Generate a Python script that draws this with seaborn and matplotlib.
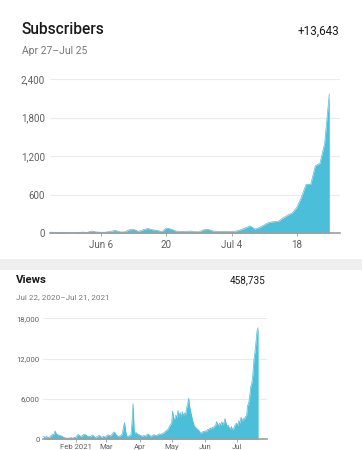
import pandas as pd
import matplotlib
matplotlib.use("Agg")
import matplotlib.pyplot as plt
from matplotlib.patches import Rectangle
import seaborn as sns

FILL = "#4bbfd9"
GRID = "#ebebeb"
TICK = "#616161"
SPINE = "#9e9e9e"

# --- Subscribers, daily from May 26 ---
sub_start = "2021-05-26"
sub_values = [
    18, 15, 14, 16, 10, 8, 12, 18, 14, 35, 20, 15, 18, 30, 45, 22, 20, 55, 60, 30,
    55, 75, 55, 45, 25, 82, 65, 35, 30, 28, 35, 25, 22, 55, 60, 35, 30, 25, 30, 25,
    35, 55, 85, 115, 65, 90, 130, 170, 180, 185, 235, 280, 315, 400, 560, 760, 760,
    1050, 1090, 1400, 2170,
]
sub_ticks = ["2021-06-06", "2021-06-20", "2021-07-04", "2021-07-18"]
sub_tick_labels = ["Jun 6", "20", "Jul 4", "18"]
sub_yticks = [0, 600, 1200, 1800, 2400]

# --- Views, daily from Jan 1 ---
views_start = "2021-01-01"
views_values = [
    # Jan
    450, 380, 300, 420, 350, 280, 330, 500, 620, 800, 700, 1250, 900, 700,
    650, 600, 550, 500, 420, 300, 250, 180, 150, 200, 160, 220, 250, 180, 150, 300, 250,
    # Feb
    400, 650, 700, 550, 450, 500, 600, 750, 700, 650, 500, 400, 450, 350,
    500, 650, 550, 300, 250, 400, 350, 600, 500, 350, 300, 450, 400, 250,
    # Mar
    500, 600, 650, 550, 500, 700, 900, 1100, 1000, 700, 550, 450, 400, 550,
    600, 900, 1800, 2500, 1200, 500, 450, 500, 600, 700, 2500, 5300, 1200, 900,
    1000, 800, 650,
    # Apr
    700, 550, 500, 450, 600, 500, 450, 700, 800, 650, 500, 450, 550, 700,
    650, 550, 600, 650, 750, 800, 700, 850, 900, 1000, 1150, 1300, 1400, 1600,
    1900, 2200,
    # May
    2400, 4200, 3000, 3100, 3600, 3200, 4300, 3400, 4000, 3300, 4100, 3500, 3900, 3600,
    4600, 5200, 6100, 4800, 4000, 3300, 2600, 2100, 1800, 1700, 1500, 1400, 1200, 900,
    1000, 1100, 1200,
    # Jun
    1100, 1300, 1200, 1500, 1400, 1700, 1500, 1800, 1600, 2000, 1900, 2650, 2300, 2000,
    2400, 2100, 2600, 2200, 2500, 3100, 2400, 1900, 2100, 1700, 1500, 1900, 1400, 1600,
    2000, 2300,
    # Jul
    2400, 2000, 2800, 2300, 3300, 2600, 3100, 2900, 3400, 3200, 5000, 5300, 6300, 7800,
    8300, 9500, 11800, 13000, 14500, 16200, 16600,
]
views_ticks = ["2021-02-01", "2021-03-01", "2021-04-01", "2021-05-01", "2021-06-01", "2021-07-01"]
views_tick_labels = ["Feb 2021", "Mar", "Apr", "May", "Jun", "Jul"]
views_yticks = [0, 6000, 12000, 18000]

sns.set_theme(style="white")
plt.rcParams["font.family"] = ["Roboto", "DejaVu Sans"]

W, H = 362, 450
fig = plt.figure(figsize=(W / 100, H / 100), dpi=100)


def box(x0, y0, x1, y1):
    # pixel box (top-left origin) -> figure fractions
    return [x0 / W, 1 - y1 / H, (x1 - x0) / W, (y1 - y0) / H]


def draw_area(ax, start, values, extra_days, yticks, ticks, tick_labels, fs, pad):
    dates = pd.date_range(start, periods=len(values), freq="D")
    df = pd.DataFrame({"date": dates, "value": values})
    sns.lineplot(data=df, x="date", y="value", ax=ax, color=FILL, linewidth=0.5)
    ax.fill_between(df["date"], 0, df["value"], color=FILL, linewidth=0)
    ax.set_xlim(dates[0], dates[-1] + pd.Timedelta(days=extra_days))
    ax.set_ylim(yticks[0], yticks[-1])
    ax.set_yticks(yticks)
    ax.set_yticklabels([f"{v:,}" for v in yticks])
    ax.set_xticks(pd.to_datetime(ticks))
    ax.set_xticklabels(tick_labels)
    ax.set_xlabel("")
    ax.set_ylabel("")
    ax.grid(axis="y", color=GRID, linewidth=0.8)
    ax.set_axisbelow(True)
    for s in ["top", "right", "left"]:
        ax.spines[s].set_visible(False)
    ax.spines["bottom"].set_color(SPINE)
    ax.spines["bottom"].set_linewidth(1.2)
    ax.spines["bottom"].set_zorder(5)
    ax.tick_params(axis="y", length=0, pad=pad, labelsize=fs, labelcolor=TICK)
    ax.tick_params(axis="x", length=2, width=0.6, color=SPINE, pad=pad - 1,
                   labelsize=fs, labelcolor=TICK, bottom=True)


# grey separator between the two screenshots
fig.patches.append(Rectangle((0, 1 - 270 / H), 1, 11 / H, transform=fig.transFigure,
                             facecolor="#efefef", edgecolor="none", zorder=0))

ax1 = fig.add_axes(box(50, 79, 340, 233.3))
draw_area(ax1, sub_start, sub_values, 2.3, sub_yticks, sub_ticks, sub_tick_labels, 7.1, 3.6)

ax2 = fig.add_axes(box(43.3, 318.3, 266.7, 439.3))
draw_area(ax2, views_start, views_values, 8, views_yticks, views_ticks, views_tick_labels, 5.6, 2.5)

# headers
fig.text(21.5 / W, 1 - 34.3 / H, "Subscribers", fontsize=11.2, fontweight="medium",
         color="#1a1a1a", va="baseline", ha="left")
fig.text(339.5 / W, 1 - 34.3 / H, "+13,643", fontsize=8.4, color="#1a1a1a",
         va="baseline", ha="right")
fig.text(21.5 / W, 1 - 54 / H, "Apr 27\u2013Jul 25", fontsize=7.5, color="#777777",
         va="baseline", ha="left")

fig.text(16 / W, 1 - 283 / H, "Views", fontsize=8.2, fontweight="bold",
         color="#1a1a1a", va="baseline", ha="left")
fig.text(266 / W, 1 - 283 / H, "458,735", fontsize=7.2, color="#1a1a1a",
         va="baseline", ha="right")
fig.text(16 / W, 1 - 299 / H, "Jul 22, 2020\u2013Jul 21, 2021", fontsize=5.9,
         color="#777777", va="baseline", ha="left")

fig.savefig("out.png", dpi=100, facecolor="white")
plt.close(fig)
